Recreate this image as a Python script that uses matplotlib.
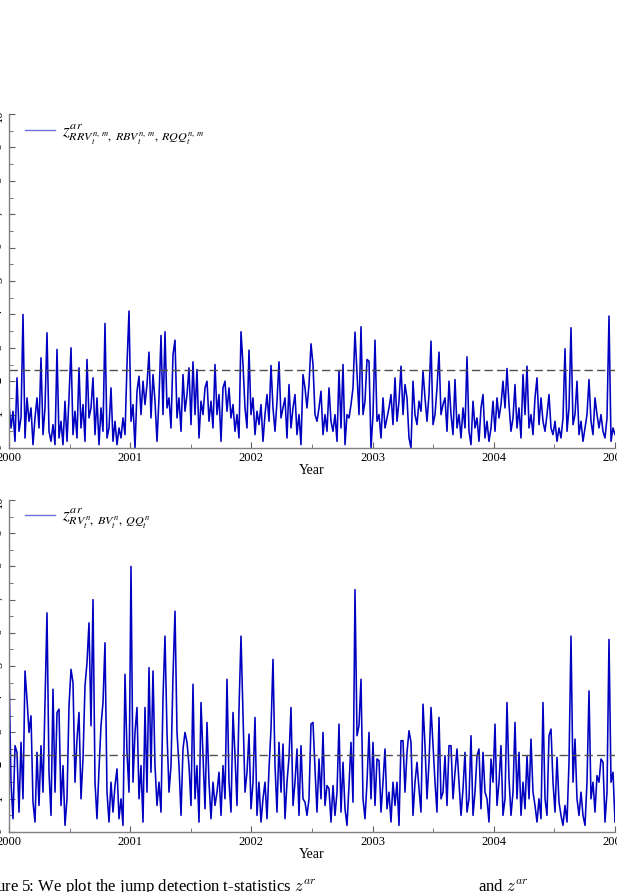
import numpy as np
import matplotlib.pyplot as plt

plt.rcParams['font.family'] = ['Liberation Serif', 'DejaVu Serif']
plt.rcParams['mathtext.fontset'] = 'stix'

# z^ar statistic, realized (robust) measures, top panel
z_rrv = [1.3, 0.6, 1.1, 0.2, 2.1, 0.5, 0.9, 4.0, 0.3, 1.5,
         0.8, 1.2, 0.1, 0.9, 1.5, 0.6, 2.7, 0.4, 1.2, 3.45,
         0.5, 0.2, 0.7, 0.1, 2.95, 0.3, 0.8, 0.1, 1.4, 0.2,
         1.5, 3.0, 0.4, 1.1, 0.3, 2.4, 0.6, 1.3, 0.2, 2.65,
         0.9, 1.2, 2.1, 0.4, 1.5, 0.1, 1.2, 0.5, 3.73, 0.3,
         0.6, 1.8, 0.2, 0.8, 0.1, 0.6, 0.3, 0.9, 0.4, 2.5,
         4.1, 0.8, 1.3, 0.0, 1.7, 2.15, 1.0, 2.0, 1.3, 1.9,
         2.87, 0.9, 2.2, 1.4, 0.2, 1.5, 3.37, 1.0, 3.48, 1.2,
         1.5, 0.6, 2.8, 3.23, 0.9, 1.5, 0.5, 2.2, 1.1, 1.6,
         2.4, 0.7, 2.58, 1.0, 2.35, 0.3, 1.4, 1.0, 1.8, 2.0,
         0.8, 1.4, 0.6, 2.5, 1.0, 1.6, 0.2, 1.8, 2.0, 1.1,
         1.8, 0.9, 1.3, 0.5, 1.0, 0.3, 3.48, 2.5, 1.2, 0.6,
         2.93, 1.0, 1.5, 0.4, 1.1, 0.7, 1.3, 0.2, 1.0, 1.6,
         0.8, 2.47, 1.2, 0.5, 1.4, 2.58, 0.9, 1.2, 1.5, 0.3,
         1.9, 0.6, 1.2, 1.6, 0.4, 1.0, 0.1, 2.2,
         1.8, 1.2, 1.9, 3.12, 2.5, 1.0, 0.8, 1.2, 1.7, 0.4,
         1.0, 0.5, 1.8, 0.8, 0.5, 1.0, 0.2, 2.32, 0.6, 2.5,
         0.1, 1.0, 0.9, 1.3, 1.8, 3.47, 2.2, 1.0, 3.63, 1.0,
         1.4, 2.65, 2.6, 0.0, 1.0, 3.23, 0.8, 1.0, 0.3, 1.5,
         0.6, 0.9, 1.2, 1.6, 0.7, 2.1, 0.8, 1.4, 2.45, 1.0,
         1.9, 1.5, 0.3, 0.0, 2.0, 1.0, 0.7, 1.4, 1.1, 2.3,
         1.5, 0.8, 1.6, 3.2, 0.7, 1.0, 1.8, 2.87, 1.0, 1.3,
         1.5, 0.5, 2.0, 1.0, 0.4, 2.05, 0.6, 1.0, 0.3, 1.2,
         0.6, 2.73, 0.5, 0.1, 1.4, 0.6, 0.9, 0.2, 1.2, 1.6,
         0.3, 0.8, 0.2, 0.6, 1.4, 0.5, 1.5, 0.9, 1.3, 2.0,
         1.2, 2.38, 1.3, 0.5, 0.9, 1.9, 0.6, 1.2, 0.3, 2.2,
         1.0, 2.45, 0.6, 1.0, 0.4, 1.5, 2.1, 0.7, 1.5, 0.8,
         0.5, 1.0, 1.6, 0.6, 0.4, 0.8, 0.2, 0.6, 0.3, 0.9,
         2.97, 0.5, 1.2, 3.6, 0.7, 1.0, 2.0, 0.4, 0.8, 0.2,
         0.6, 1.0, 2.05, 0.8, 0.4, 1.5, 1.0, 0.6, 1.0, 0.5,
         0.3, 0.9, 3.95, 0.2, 0.6, 0.4]

# z^ar statistic, standard measures, bottom panel
z_rv = [4.9, 1.5, 0.4, 2.6, 2.4, 0.6, 2.7, 1.0, 4.85, 4.0,
        3.0, 3.5, 0.9, 0.3, 2.4, 0.8, 2.6, 1.2, 3.9, 6.6,
        1.8, 0.5, 4.3, 1.2, 3.6, 3.7, 0.8, 2.0, 0.2, 1.0,
        3.8, 4.9, 4.5, 1.5, 2.8, 3.6, 1.0, 2.2, 4.4, 5.1,
        6.3, 3.2, 7.0, 1.5, 0.4, 1.9, 3.2, 3.9, 5.7, 1.2,
        0.3, 1.5, 0.6, 1.4, 1.9, 0.4, 1.0, 0.2, 4.75, 2.4,
        1.2, 8.0, 1.5, 3.0, 3.75, 1.0, 2.0, 0.3, 3.75, 1.2,
        4.95, 1.8, 4.85, 2.0, 0.8, 1.5, 0.6, 4.05, 5.9, 3.0,
        1.2, 2.0, 4.7, 6.65, 3.0, 2.0, 0.5, 2.5, 3.0, 2.7,
        2.0, 0.8, 4.45, 1.0, 2.0, 0.3, 3.9, 2.3, 0.7, 3.3,
        1.5, 0.4, 1.5, 0.8, 1.2, 1.8, 0.5, 2.0, 1.0, 4.6,
        1.5, 0.6, 3.6, 2.3, 0.8, 3.7, 5.9, 3.55, 1.2, 1.8,
        2.95, 0.7, 1.5, 3.45, 0.5, 1.5, 0.3, 1.0, 1.5, 0.4,
        1.9, 3.1, 5.2, 2.0, 0.6, 2.7, 1.2, 2.65, 0.4, 1.5,
        2.25, 3.75, 0.8, 1.5, 2.5, 0.5, 2.6, 1.0,
        0.9, 0.5, 1.0, 3.25, 3.3, 1.9, 0.6, 2.2, 1.0, 3.0,
        0.8, 1.4, 1.3, 0.3, 1.4, 0.5, 1.2, 3.25, 0.6, 2.1,
        0.7, 0.2, 1.4, 2.7, 0.9, 7.3, 2.9, 3.2, 4.6, 1.0,
        0.4, 1.5, 3.0, 1.0, 2.7, 0.8, 2.2, 2.15, 0.6, 1.5,
        2.5, 0.7, 1.2, 0.3, 1.5, 0.8, 1.5, 0.2, 2.75, 2.75,
        1.2, 2.4, 3.05, 2.7, 0.5, 1.5, 2.1, 1.3, 0.6, 3.85,
        2.6, 1.0, 2.1, 3.75, 2.6, 1.5, 0.6, 3.45, 1.0, 1.2,
        2.3, 0.8, 2.6, 2.6, 1.0, 1.8, 2.5, 1.5, 0.5, 1.3,
        2.4, 0.6, 1.0, 2.9, 0.5, 1.2, 2.3, 2.5, 0.7, 2.4,
        1.2, 1.0, 0.3, 2.2, 1.5, 3.25, 0.8, 1.5, 2.6, 0.5,
        1.0, 3.9, 1.6, 0.5, 1.2, 3.3, 1.0, 2.4, 0.5, 1.5,
        0.7, 2.3, 1.0, 2.8, 1.2, 0.8, 0.3, 1.0, 0.4, 3.9,
        1.0, 0.5, 2.9, 3.1, 1.5, 0.6, 2.25, 0.9, 0.5, 0.2,
        0.8, 0.3, 2.1, 5.9, 1.5, 2.8, 1.0, 0.5, 1.2, 0.5,
        0.2, 1.5, 4.25, 1.0, 1.5, 0.6, 1.7, 1.5, 2.2, 2.1,
        0.3, 1.2, 5.8, 1.5, 1.8, 0.3]

crit = 2.326  # 1% critical value
years = [2000, 2001, 2002, 2003, 2004, 2005]
t_top = np.linspace(2000, 2005, len(z_rrv))
t_bot = np.linspace(2000, 2005, len(z_rv))

lab_top = r'$z^{ar}_{RRV_t^{n,\,m},\;RBV_t^{n,\,m},\;RQQ_t^{n,\,m}}$'
lab_bot = r'$z^{ar}_{RV_t^{n},\;BV_t^{n},\;QQ_t^{n}}$'

fig = plt.figure(figsize=(6.17, 8.92), dpi=100)
W, H = 617.0, 892.0
ax1 = fig.add_axes([9 / W, 1 - 448 / H, 606 / W, 334 / H])
ax2 = fig.add_axes([9 / W, 1 - 832 / H, 606 / W, 332 / H])

for ax, t, z, lab, ytop in [(ax1, t_top, z_rrv, lab_top, 0.975),
                            (ax2, t_bot, z_rv, lab_bot, 0.98)]:
    ax.plot(t, z, color='#0000c0', lw=1.15, label=lab)
    ax.axhline(crit, color='#505050', lw=1.0, ls=(0, (6, 3)))
    ax.set_xlim(2000, 2005)
    ax.set_ylim(0, 10)
    ax.set_xticks(years)
    ax.set_xticks(np.arange(2000, 2005.01, 0.5), minor=True)
    ax.set_yticks(np.arange(0, 11, 1))
    ax.set_yticks(np.arange(0, 10.01, 0.5), minor=True)
    ax.spines['top'].set_visible(False)
    ax.spines['right'].set_visible(False)
    for s in ['left', 'bottom']:
        ax.spines[s].set_color('#808080')
        ax.spines[s].set_linewidth(1.0)
    ax.tick_params(which='both', direction='in', colors='#606060', labelcolor='black',
                   labelsize=9)
    ax.tick_params(which='major', length=4)
    ax.tick_params(which='minor', length=3)
    ax.tick_params(axis='y', labelrotation=90, pad=3)
    ax.tick_params(axis='x', pad=3)
    ax.set_xlabel('Year', fontsize=10, labelpad=0)
    leg = ax.legend(loc='upper left', bbox_to_anchor=(0.026, ytop), frameon=False,
                    fontsize=12.5, handlelength=1.75, handletextpad=0.4,
                    borderpad=0, borderaxespad=0)
    leg.get_lines()[0].set_color('#7070dd')
    leg.get_lines()[0].set_linewidth(1.0)

fig.text(-26 / W, 1 / H, r'Figure 5: We plot the jump detection t-statistics $z^{ar}$',
         fontsize=12, va='baseline', math_fontfamily='cm')
fig.text(478 / W, 1 / H, r'and $z^{ar}$',
         fontsize=12, va='baseline', math_fontfamily='cm')

fig.savefig('out.png', dpi=100)
